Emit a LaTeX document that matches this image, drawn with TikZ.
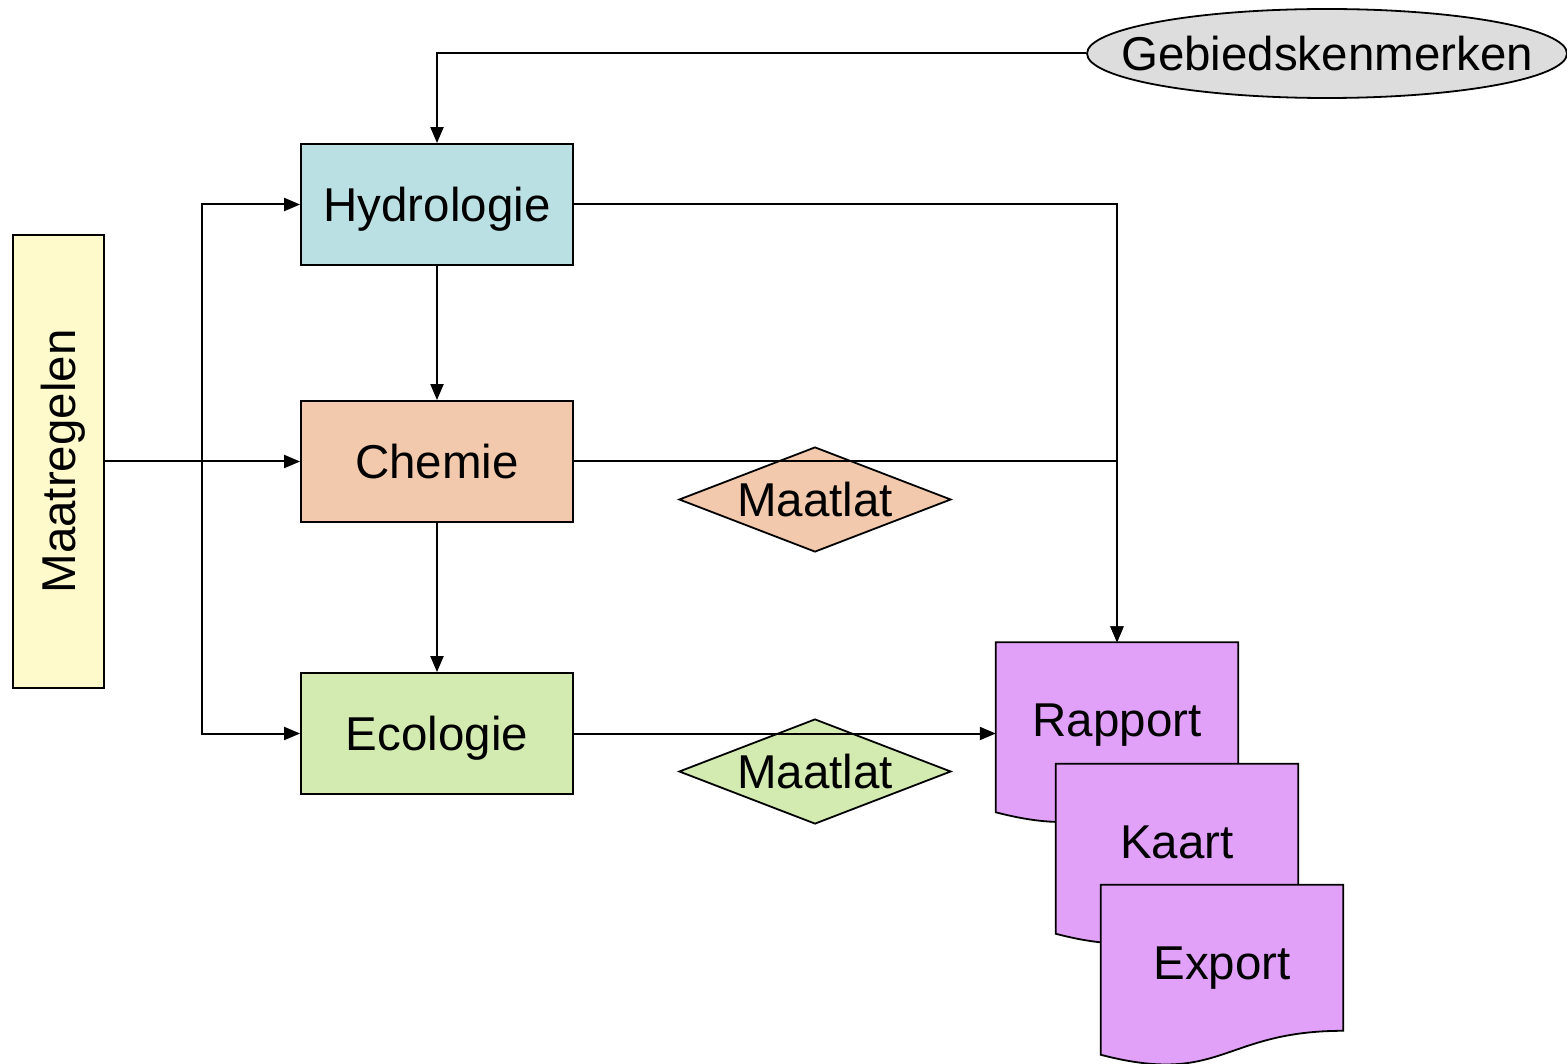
\documentclass[tikz,border=0pt]{standalone}
\usepackage{fontspec}
\setmainfont{Liberation Sans}
\usetikzlibrary{arrows.meta,shapes.geometric,calc}
\definecolor{hydc}{HTML}{BBE0E3}
\definecolor{chemc}{HTML}{F2C9AC}
\definecolor{ecoc}{HTML}{D3EBB0}
\definecolor{mrc}{HTML}{FFFACC}
\definecolor{gebc}{HTML}{DDDDDD}
\definecolor{docc}{HTML}{E1A1F9}
\begin{document}
\begin{tikzpicture}[x=1pt,y=-1pt,
  every node/.style={font=\fontsize{47.5}{57}\selectfont, inner sep=0pt},
  outl/.style={draw=black, line width=1.8pt},
  box/.style={outl, minimum width=272, minimum height=121, text height=34pt, text depth=0pt},
  lbl/.style={text height=34pt, text depth=0pt},
  maat/.style={diamond, outl, minimum width=272, minimum height=105, aspect=2.59, text height=34pt, text depth=0pt},
  docbox/.style={minimum width=242, minimum height=182},
  docshape/.style={outl, fill=docc},
  conn/.style={draw=black, line width=2pt},
  arr/.style={conn, -{Triangle[length=16pt,width=13pt]}}]
\useasboundingbox (0,0) rectangle (1567,1064);

% main nodes
\node[box, fill=hydc] (hyd) at (437,204.5) {Hydrologie};
\node[box, fill=chemc] (chem) at (437,461.5) {Chemie};
\node[box, fill=ecoc] (eco) at (437,733.5) {Ecologie};
\node[outl, fill=mrc, minimum width=91, minimum height=453] (mr) at (58.5,461.5) {};
\node[lbl, rotate=90] (mrtxt) at (mr.center) {Maatregelen};
\node[ellipse, outl, fill=gebc, minimum width=480, minimum height=89, text height=34pt, text depth=0pt] (geb) at (1327,53.5) {\makebox[0pt]{Gebiedskenmerken}};
\node[maat, fill=chemc] (m1) at (815,499.5) {Maatlat};
\node[maat, fill=ecoc] (m2) at (815,771.5) {Maatlat};

% documents
\node[docbox] (rap) at (1117,733.5) {};
\draw[docshape] (rap.north west) -- (rap.north east) -- ($(rap.north east)+(0,146)$)
  .. controls ($(rap.north)+(0,146)$) and ($(rap.north)+(0,201.5)$) .. ($(rap.north west)+(0,170)$) -- cycle;
\node[anchor=base] (raptxt) at ($(rap.center)+(0,3)$) {Rapport};

\node[docbox] (kaa) at (1177,855) {};
\draw[docshape] (kaa.north west) -- (kaa.north east) -- ($(kaa.north east)+(0,146)$)
  .. controls ($(kaa.north)+(0,146)$) and ($(kaa.north)+(0,201.5)$) .. ($(kaa.north west)+(0,170)$) -- cycle;
\node[anchor=base] (kaatxt) at ($(kaa.center)+(0,3)$) {Kaart};

\node[docbox] (exp) at (1222,976) {};
\draw[docshape] (exp.north west) -- (exp.north east) -- ($(exp.north east)+(0,146)$)
  .. controls ($(exp.north)+(0,146)$) and ($(exp.north)+(0,201.5)$) .. ($(exp.north west)+(0,170)$) -- cycle;
\node[anchor=base] (exptxt) at ($(exp.center)+(0,3)$) {Export};

% connectors
\coordinate (split) at (202,461.5);
\draw[arr] (geb.west) -| (hyd.north);
\draw[arr] (hyd.south) -- (chem.north);
\draw[arr] (chem.south) -- (eco.north);
\draw[arr] (mr.east) -- (chem.west);
\draw[arr] (split) |- (hyd.west);
\draw[arr] (split) |- (eco.west);
\draw[arr] (hyd.east) -| (rap.north);
\draw[arr] (chem.east) -| (rap.north);
\draw[arr] (eco.east) -- (rap.west);
\end{tikzpicture}
\end{document}
